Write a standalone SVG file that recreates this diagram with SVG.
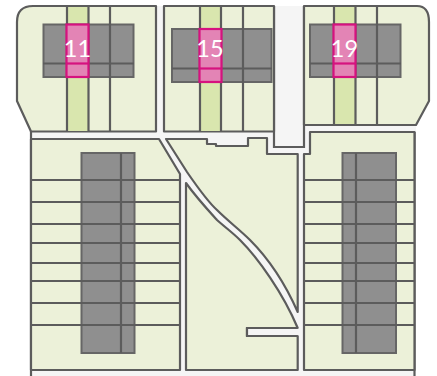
<svg xmlns="http://www.w3.org/2000/svg" width="437" height="376" viewBox="0 0 437 376">
<style>
.road{fill:#f5f5f5}
.block{fill:#ecf1d9;stroke:#5c5c5c;stroke-width:2.200;stroke-linejoin:round}
.green{fill:#d9e6ae}
.bld{fill:#8f8f8f;stroke:#666;stroke-width:2}
.line{fill:none;stroke:#5c5c5c;stroke-width:2.200}
.plot{fill:#e384b5;stroke:#d6127f;stroke-width:2.200}
.edge{fill:none;stroke:#5c5c5c;stroke-width:2.200}
text{font-family:"Lato","Liberation Sans",sans-serif;font-weight:400;font-size:23.500px;fill:#fff;text-anchor:middle}
</style>
<g id="roads">
<path class="road" d="M156 6H164V125H274V6H304V125H416V139H414.500V376H31V131H156Z"/>
<path class="edge" d="M274 6V147H304V6"/>
<path class="edge" d="M31 131V376M414.500 132V376"/>
</g>
<g id="block-a">
<path class="block" d="M33 6H156V131.500H31L17 101V22Q17 6 33 6Z"/>
<rect class="green" x="67" y="7" width="21" height="124"/>
<rect class="bld" x="43.500" y="24.500" width="90" height="52.500"/>
<path class="line" d="M67 6V131M88.500 6V131M110 6V131M43 63.500H134"/>
<rect class="plot" x="66.500" y="24.500" width="22" height="52.500"/>
<path d="M66.500 63.500H88.500" class="plot"/>
<text x="77.500" y="57">11</text>
</g>
<g id="block-b">
<path class="block" d="M164 6H274V131.500H164Z"/>
<rect class="green" x="200" y="7" width="21" height="124"/>
<rect class="bld" x="172" y="29" width="99.500" height="53"/>
<path class="line" d="M200 6V131M221 6V131M243 6V131M172 68.500H272"/>
<rect class="plot" x="199.500" y="29" width="22" height="53"/>
<path d="M199.500 68.500H221.500" class="plot"/>
<text x="210" y="56.500">15</text>
</g>
<g id="block-c">
<path class="block" d="M304 6H417Q429 6 429 22V101L416 125H304Z"/>
<rect class="green" x="334" y="7" width="21" height="117"/>
<rect class="bld" x="310" y="24.500" width="90.500" height="52.500"/>
<path class="line" d="M334 6V125M355.500 6V125M377 6V125M310 63.500H401"/>
<rect class="plot" x="333.500" y="24.500" width="22" height="52.500"/>
<path d="M333.500 63.500H355.500" class="plot"/>
<text x="344.500" y="57">19</text>
</g>
<g id="block-d">
<path class="block" d="M31 139H159L180 174V370H31Z"/>
<rect class="bld" x="81.500" y="153" width="53" height="200"/>
<path class="line" d="M31 180H180M31 202H180M31 224H180M31 243H180M31 263H180M31 281H180M31 303H180M31 325H180M121 153V353"/>
</g>
<g id="block-e">
<path class="block" d="M304 154H310V132H414.500V370H304Z"/>
<rect class="bld" x="342.500" y="153" width="53.500" height="200"/>
<path class="line" d="M304 202H414.500M304 224H414.500M304 243H414.500M304 263H414.500M304 281H414.500M304 303H414.500M304 325H414.500M304 180H414.500M356 153V353"/>
</g>
<g id="block-f">
<path class="block" d="M166 139H207V144H216V146H248V138H267V154H297.700V312C284 281 268 258 250 240C240 230 228 221 217 210C207 201 198 188 187 172Z"/>
<path class="block" d="M186 183C196 197 207 209 217 220C226 228 233 233 240 240C258 258 283 293 297.700 328H247V336H297.700V370H186Z"/>
<rect class="road" x="247.800" y="328.800" width="52" height="6.400"/>
<path class="edge" d="M297.700 328H247V336H297.700"/>
</g>
</svg>
